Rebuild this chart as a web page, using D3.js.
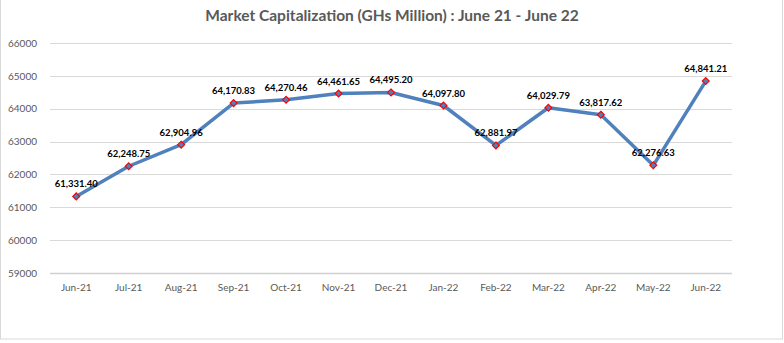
<!DOCTYPE html>
<html>
<head>
<meta charset="utf-8">
<script src="https://cdn.jsdelivr.net/npm/d3@7"></script>
<style>
  body { margin: 0; background: #fff; }
  text { font-family: Lato, "Open Sans", sans-serif; }
</style>
</head>
<body>
<div class="chart"></div>
<script>
var months = ['Jun-21', 'Jul-21', 'Aug-21', 'Sep-21', 'Oct-21', 'Nov-21', 'Dec-21',
              'Jan-22', 'Feb-22', 'Mar-22', 'Apr-22', 'May-22', 'Jun-22'];
var marketCap = [61331.40, 62248.75, 62904.96, 64170.83, 64270.46, 64461.65, 64495.20,
                 64097.80, 62881.97, 64029.79, 63817.62, 62276.63, 64841.21];
var yTicks = [59000, 60000, 61000, 62000, 63000, 64000, 65000, 66000];

var width = 784,
    height = 343;

var margin = { top: 43, right: 52, bottom: 70, left: 50 };

var svg = d3.select('.chart')
    .append('svg')
    .attr('width', width)
    .attr('height', height);

// chart border
svg.append('rect')
    .attr('x', 0.5).attr('y', -2)
    .attr('width', width - 2).attr('height', height - 2)
    .attr('fill', 'none')
    .attr('stroke', '#d9d9d9');

var x = d3.scaleBand()
    .domain(months)
    .range([margin.left, width - margin.right]);

var y = d3.scaleLinear()
    .domain([59000, 66000])
    .range([height - margin.bottom, margin.top]);

// gridlines
svg.append('g')
    .selectAll('line')
    .data(yTicks)
    .enter()
    .append('line')
    .attr('x1', margin.left)
    .attr('x2', width - margin.right)
    .attr('y1', function(d) { return Math.round(y(d)) + 0.5; })
    .attr('y2', function(d) { return Math.round(y(d)) + 0.5; })
    .attr('stroke', function(d) { return d === 59000 ? '#d0d0d0' : '#d9d9d9'; })
    .attr('stroke-width', function(d) { return d === 59000 ? 1.5 : 1; });

// y axis
var yAxis = svg.append('g')
    .attr('transform', 'translate(' + (margin.left - 10) + ',0)')
    .call(d3.axisLeft(y).tickValues(yTicks).tickSize(0).tickFormat(d3.format('d')));
yAxis.select('.domain').remove();
yAxis.selectAll('text')
    .attr('fill', '#595959')
    .attr('font-size', '10px')
    .attr('dx', 0);

// x axis
var xAxis = svg.append('g')
    .attr('transform', 'translate(0,' + (height - margin.bottom + 8) + ')')
    .call(d3.axisBottom(x).tickSize(0));
xAxis.select('.domain').remove();
xAxis.selectAll('text')
    .attr('fill', '#595959')
    .attr('font-size', '10px');

// title
svg.append('text')
    .attr('x', width / 2)
    .attr('y', 21)
    .attr('text-anchor', 'middle')
    .attr('font-size', '15.5px')
    .attr('font-weight', 'bold')
    .attr('fill', '#595959')
    .text('Market Capitalization (GHs Million) : June 21 - June 22');

var cx = function(d, i) { return x(months[i]) + x.bandwidth() / 2; };

var line = d3.line()
    .x(cx)
    .y(function(d) { return y(d); });

svg.append('path')
    .datum(marketCap)
    .attr('d', line)
    .attr('fill', 'none')
    .attr('stroke', '#4f81bd')
    .attr('stroke-width', 3.5)
    .attr('stroke-linejoin', 'round');

// diamond markers
svg.append('g')
    .selectAll('path')
    .data(marketCap)
    .enter()
    .append('path')
    .attr('d', d3.symbol().type(d3.symbolDiamond2).size(30))
    .attr('transform', function(d, i) { return 'translate(' + cx(d, i) + ',' + y(d) + ')'; })
    .attr('fill', '#4f81bd')
    .attr('stroke', '#ff0000')
    .attr('stroke-width', 1.2);

// value labels
svg.append('g')
    .selectAll('text')
    .data(marketCap)
    .enter()
    .append('text')
    .attr('x', cx)
    .attr('y', function(d) { return y(d) - 9; })
    .attr('text-anchor', 'middle')
    .attr('font-size', '9.5px')
    .attr('font-weight', 'bold')
    .attr('fill', '#000')
    .text(function(d) { return d3.format(',.2f')(d); });
</script>
</body>
</html>
